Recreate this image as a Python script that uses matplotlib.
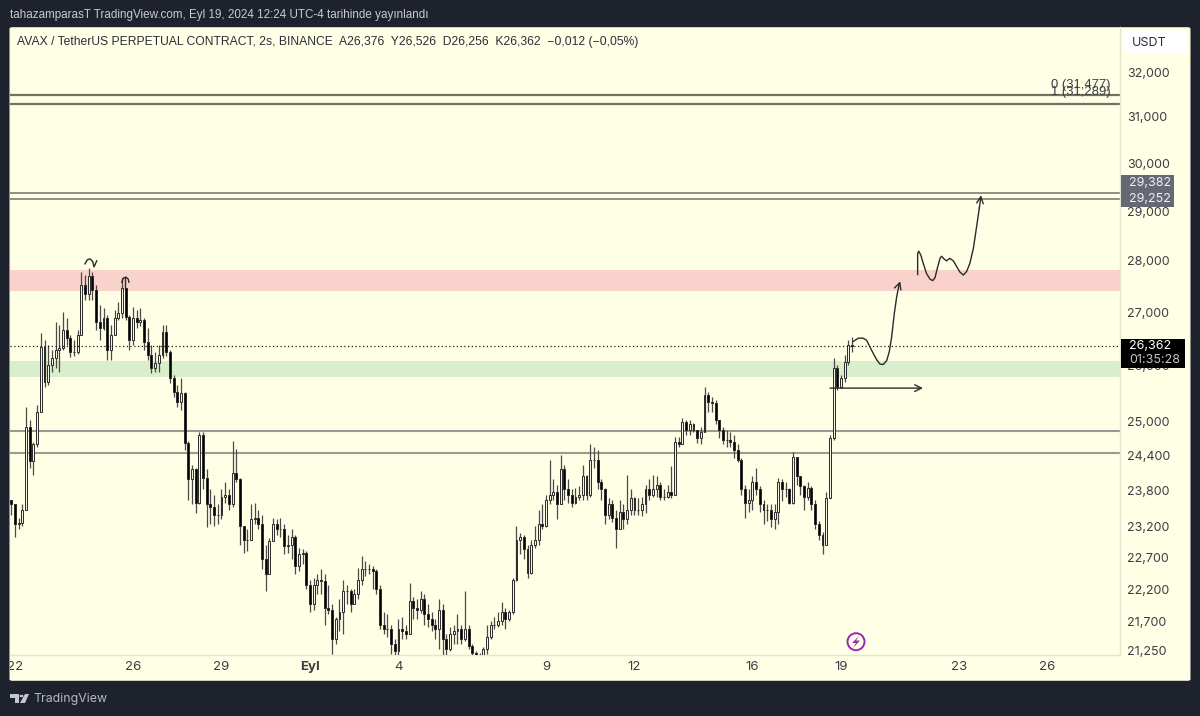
#!/usr/bin/env python3
"""
AVAX/USDT 2h chart from TradingView, with drawn zones and arrows
"""

import numpy as np
import matplotlib
matplotlib.use("Agg")
import matplotlib.pyplot as plt
from matplotlib.patches import FancyBboxPatch, Polygon, Circle, Ellipse
from matplotlib.transforms import Bbox

W, H = 1200, 716

# prices in USDT, sampled every 3 hours starting late on Aug 21
closes = [
    23.57, 23.24, 23.26, 23.48, 24.89, 24.30, 24.59, 25.16, 26.34, 25.70,
    26.01, 26.14, 26.29, 26.33, 26.67, 26.52, 26.25, 26.25, 26.57, 27.53,
    27.35, 27.70, 27.43, 26.81, 26.70, 26.89, 26.29, 26.57, 26.89, 26.99,
    27.47, 26.91, 26.48, 26.89, 26.81, 26.85, 26.44, 26.20, 25.96, 26.05,
    26.20, 26.63, 26.25, 25.78, 25.52, 25.34, 25.50, 24.62, 23.99, 24.16,
    23.60, 24.76, 24.02, 23.57, 23.52, 23.40, 23.40, 23.70, 23.73, 23.57,
    24.10, 23.99, 23.21, 22.99, 22.99, 23.32, 23.35, 23.24, 22.67, 22.43,
    22.97, 23.24, 23.16, 23.16, 22.88, 22.91, 23.03, 22.56, 22.75, 22.78,
    22.27, 21.96, 22.27, 22.35, 22.32, 21.91, 21.88, 21.43, 21.73, 21.85,
    22.17, 22.17, 21.96, 22.12, 22.35, 22.51, 22.51, 22.51, 22.48, 22.20,
    21.65, 21.58, 21.58, 21.35, 21.25, 21.58, 21.55, 21.50, 22.01, 21.91,
    21.88, 22.04, 21.81, 21.73, 21.65, 21.58, 21.88, 21.43, 21.28, 21.50,
    21.55, 21.58, 21.43, 21.58, 21.32, 21.22, 21.10, 21.13, 21.28, 21.46,
    21.65, 21.65, 21.70, 21.85, 21.73, 21.85, 22.35, 22.99, 23.03, 22.83,
    22.46, 22.91, 22.99, 23.24, 23.21, 23.65, 23.73, 23.78, 23.57, 24.16,
    23.82, 23.73, 23.60, 23.70, 23.73, 24.04, 23.73, 24.33, 24.33, 23.94,
    23.82, 23.40, 23.57, 23.35, 23.16, 23.45, 23.32, 23.48, 23.68, 23.48,
    23.48, 23.57, 23.82, 23.73, 23.82, 23.90, 23.70, 23.70, 23.78, 23.73,
    24.64, 24.59, 24.99, 24.85, 24.95, 24.85, 24.71, 24.81, 25.47, 25.34,
    25.33, 25.02, 24.85, 24.67, 24.67, 24.64, 24.50, 24.33, 23.82, 23.60,
    23.65, 23.95, 23.82, 23.57, 23.48, 23.48, 23.32, 23.45, 23.95, 23.82,
    23.82, 23.60, 24.38, 24.04, 23.87, 23.70, 23.85, 23.57, 23.24, 23.07,
    22.91, 23.68, 24.71, 25.96, 25.61, 25.78, 26.07, 26.376, 26.362,
]
highs = [
    23.65, 23.52, 23.35, 23.57, 25.25, 25.02, 24.64, 25.29, 26.61, 26.48,
    26.38, 26.29, 26.81, 26.76, 27.00, 26.89, 26.57, 26.48, 26.67, 27.78,
    27.72, 27.86, 27.78, 27.53, 27.14, 27.08, 26.95, 26.76, 27.04, 27.20,
    27.66, 27.47, 26.95, 27.10, 27.04, 27.08, 26.89, 26.70, 26.38, 26.25,
    26.38, 26.76, 26.76, 26.29, 25.83, 25.65, 25.78, 25.52, 24.65, 24.24,
    24.19, 24.81, 24.80, 24.16, 23.82, 23.73, 23.57, 23.82, 23.94, 23.82,
    24.65, 24.52, 24.02, 23.10, 23.16, 23.57, 23.60, 23.48, 23.40, 22.91,
    23.02, 23.35, 23.32, 23.35, 23.24, 23.07, 23.16, 23.07, 22.86, 22.83,
    22.80, 22.35, 22.38, 22.43, 22.51, 22.43, 22.27, 21.96, 21.77, 22.04,
    22.35, 22.27, 22.20, 22.20, 22.54, 22.72, 22.64, 22.59, 22.57, 22.51,
    22.27, 21.85, 21.81, 21.65, 21.43, 21.73, 21.76, 21.65, 22.30, 22.07,
    22.04, 22.17, 22.12, 21.96, 21.85, 21.73, 22.04, 21.96, 21.50, 21.61,
    21.65, 21.81, 21.65, 22.17, 21.65, 21.35, 21.25, 21.22, 21.31, 21.65,
    21.70, 21.76, 21.85, 21.99, 21.91, 21.88, 22.38, 23.21, 23.10, 23.07,
    22.91, 22.99, 23.21, 23.48, 23.57, 23.73, 24.33, 23.99, 23.90, 24.41,
    24.24, 23.99, 23.82, 23.85, 23.87, 24.24, 24.07, 24.59, 24.54, 24.50,
    23.99, 23.85, 23.68, 23.65, 23.48, 23.65, 23.57, 24.07, 23.82, 23.70,
    23.68, 23.70, 23.90, 23.99, 24.07, 24.04, 23.94, 23.82, 23.89, 24.22,
    24.72, 24.72, 25.06, 25.02, 25.02, 24.97, 24.85, 24.89, 25.61, 25.52,
    25.43, 25.38, 25.02, 24.90, 24.85, 24.81, 24.76, 24.59, 24.36, 23.90,
    23.82, 24.04, 24.19, 23.87, 23.65, 23.57, 23.57, 23.57, 24.02, 23.99,
    23.95, 23.85, 24.46, 24.33, 24.02, 23.90, 23.95, 23.87, 23.65, 23.29,
    23.12, 23.78, 24.76, 26.14, 26.01, 25.83, 26.20, 26.48, 26.526,
]
lows = [
    23.40, 23.03, 23.16, 23.22, 23.48, 24.19, 24.07, 24.55, 25.16, 25.61,
    25.65, 25.88, 25.96, 25.88, 26.29, 26.38, 26.16, 26.18, 26.22, 26.57,
    27.24, 27.24, 27.24, 26.67, 26.48, 26.67, 26.11, 26.11, 26.57, 26.85,
    26.89, 26.85, 26.29, 26.38, 26.70, 26.74, 26.29, 26.11, 25.87, 25.88,
    25.88, 26.14, 26.18, 25.69, 25.43, 25.25, 25.20, 24.50, 23.65, 23.57,
    23.43, 23.57, 23.82, 23.19, 23.24, 23.21, 23.24, 23.32, 23.60, 23.48,
    23.53, 23.95, 22.91, 22.78, 22.80, 22.99, 23.24, 23.16, 22.51, 22.17,
    22.67, 22.96, 23.07, 23.03, 22.75, 22.78, 22.67, 22.43, 22.48, 22.59,
    22.20, 21.85, 21.88, 22.12, 22.12, 21.65, 21.81, 21.20, 21.35, 21.55,
    21.50, 21.96, 21.85, 21.96, 22.04, 22.27, 22.40, 22.43, 22.20, 22.12,
    21.58, 21.50, 21.46, 21.20, 21.17, 21.17, 21.43, 21.43, 21.50, 21.73,
    21.73, 21.83, 21.65, 21.61, 21.55, 21.43, 21.28, 21.17, 21.17, 21.25,
    21.35, 21.35, 21.35, 21.40, 21.28, 21.13, 21.01, 21.05, 21.05, 21.20,
    21.43, 21.58, 21.61, 21.65, 21.58, 21.70, 21.81, 22.32, 22.75, 22.67,
    22.38, 22.43, 22.86, 22.91, 23.16, 23.19, 23.57, 23.65, 23.32, 23.57,
    23.65, 23.60, 23.53, 23.57, 23.65, 23.65, 23.65, 23.70, 24.19, 23.82,
    23.65, 23.24, 23.32, 23.27, 22.86, 23.16, 23.16, 23.24, 23.40, 23.40,
    23.40, 23.37, 23.42, 23.65, 23.70, 23.70, 23.65, 23.65, 23.68, 23.68,
    23.99, 24.54, 24.59, 24.76, 24.76, 24.80, 24.62, 24.59, 24.81, 25.16,
    25.16, 24.94, 24.71, 24.59, 24.54, 24.55, 24.36, 24.28, 23.73, 23.35,
    23.45, 23.48, 23.73, 23.45, 23.24, 23.29, 23.19, 23.16, 23.24, 23.62,
    23.70, 23.57, 23.57, 23.90, 23.73, 23.48, 23.65, 23.48, 23.16, 22.99,
    22.75, 23.07, 23.68, 24.67, 25.56, 25.60, 25.70, 26.01, 26.256,
]
first_open = 23.65

level_prices = [31.477, 31.289, 29.382, 29.252, 24.82, 24.44]
last_price = 26.362
resistance_zone = (27.41, 27.82)
support_zone = (25.80, 26.09)

# hand drawn paths: day offset from Aug 22, price
bump_x = [28.42, 28.59, 28.75, 28.87, 28.98, 29.09, 29.21, 29.32, 29.43, 29.55,
          29.64, 29.72, 29.81, 29.89, 29.97, 30.01]
bump_y = [26.45, 26.51, 26.51, 26.47, 26.35, 26.23, 26.11, 26.03, 26.02, 26.09,
          26.26, 26.54, 26.98, 27.30, 27.53, 27.60]
wave_x = [30.60, 30.60, 30.64, 30.71, 30.79, 30.90, 31.02, 31.11, 31.19, 31.27,
          31.36, 31.41, 31.49, 31.58, 31.69, 31.81, 31.92, 32.03, 32.15, 32.26,
          32.37, 32.49, 32.60, 32.69, 32.75]
wave_y = [27.73, 28.15, 28.19, 28.11, 27.95, 27.75, 27.64, 27.61, 27.67, 27.86,
          28.05, 28.09, 28.04, 28.00, 28.05, 28.00, 27.89, 27.78, 27.72, 27.79,
          27.95, 28.25, 28.69, 29.06, 29.33]
flat_x = [27.63, 30.78]
flat_y = [25.59, 25.59]
arc_x = [2.37, 2.45, 2.54, 2.63, 2.68, 2.77]
arc_y = [27.94, 28.02, 28.04, 27.99, 27.88, 28.00]
peak_x = [3.62, 3.67, 3.76, 3.84, 3.86]
peak_y = [27.58, 27.66, 27.68, 27.64, 27.58]
stem_x = [3.74, 3.74]
stem_y = [27.66, 27.47]

price_ticks = [32, 31, 30, 29, 28, 27, 26, 25, 24.4, 23.8, 23.2, 22.7, 22.2, 21.7, 21.25]
day_ticks = [0, 4, 7, 10, 13, 18, 21, 25, 28, 32, 35]
day_labels = ["22", "26", "29", "Eyl", "4", "9", "12", "16", "19", "23", "26"]

BG = "#ffffe6"
DARK = "#1e222d"
AXIS_TEXT = "#3a3d46"
SANS = ["Liberation Sans", "DejaVu Sans"]
INTER = ["Inter", "DejaVu Sans"]


def fx(px):
    return px / W


def fy(py):
    return 1 - py / H


def draw_candles(ax):
    days = -0.125 + 0.125 * np.arange(len(closes))
    opens = [first_open] + closes[:-1]
    ax.vlines(days, lows, highs, color="#4a4a4a", linewidth=0.9, zorder=3)
    for d, o, c in zip(days, opens, closes):
        rising = c >= o
        ax.bar(d, abs(c - o), bottom=min(o, c), width=0.065,
               facecolor="#f4f4e4" if rising else "#000000",
               edgecolor="#2a2a2a", linewidth=0.7, zorder=4)


def draw_path(ax, xs, ys, arrow=True):
    if arrow:
        ax.plot(xs[:-1], ys[:-1], color="#2a2a2a", linewidth=1.0, zorder=6)
        ax.annotate("", xy=(xs[-1], ys[-1]), xytext=(xs[-2], ys[-2]), zorder=6,
                    arrowprops=dict(arrowstyle="->", color="#2a2a2a", lw=1.0,
                                    mutation_scale=12, shrinkA=0, shrinkB=0))
    else:
        ax.plot(xs, ys, color="#2a2a2a", linewidth=1.0, zorder=6)


def main():
    plt.rcParams["font.family"] = SANS
    fig = plt.figure(figsize=(W / 100, H / 100), dpi=100, facecolor=DARK)

    # chart card
    fig.add_artist(FancyBboxPatch((fx(12), fy(679)), fx(1176), fy(29) - fy(679),
                                  boxstyle="round,pad=0.0015", transform=fig.transFigure,
                                  facecolor=BG, edgecolor=BG, zorder=0))

    ax = fig.add_axes([fx(10), fy(654.5), fx(1110), fy(27) - fy(654.5)])
    ax.set_facecolor("none")
    ax.set_yscale("log")
    ax.set_xlim(-0.17, 37.46)
    ax.set_ylim(21.196, 33.035)

    for side in ("top", "left"):
        ax.spines[side].set_visible(False)
    for side in ("right", "bottom"):
        ax.spines[side].set_color("#e4e4d0")
        ax.spines[side].set_linewidth(1)

    # zones and levels
    ax.axhspan(*resistance_zone, color="#fad2cc", linewidth=0, zorder=1)
    ax.axhspan(*support_zone, color="#d9eecb", linewidth=0, zorder=1)
    ax.hlines(level_prices[:2], -0.17, 37.46, color="#70735f", linewidth=1.6, zorder=2)
    ax.hlines(level_prices[2:4], -0.17, 37.46, color="#8f9184", linewidth=1.4, zorder=2)
    ax.hlines(level_prices[4:], -0.17, 37.46, color="#9a9a92", linewidth=1.5, zorder=2)
    ax.axhline(last_price, color="#1a1a1a", linestyle=(0, (1, 2)), linewidth=0.9, zorder=5)

    draw_candles(ax)

    draw_path(ax, bump_x, bump_y)
    draw_path(ax, wave_x, wave_y)
    draw_path(ax, flat_x, flat_y)
    draw_path(ax, arc_x, arc_y, arrow=False)
    draw_path(ax, peak_x, peak_y, arrow=False)
    draw_path(ax, stem_x, stem_y, arrow=False)

    ax.text(37.15, level_prices[0] + 0.23, "0 (31,477)", ha="right", va="center",
            fontsize=9.4, color="#3a3d46", zorder=7)
    ax.text(37.15, level_prices[1] + 0.26, "1 (31,289)", ha="right", va="center",
            fontsize=9.4, color="#3a3d46", zorder=7)

    # price axis
    ax.yaxis.tick_right()
    ax.set_yticks(price_ticks)
    ax.set_yticklabels([f"{p:.3f}".replace(".", ",") for p in price_ticks])
    ax.minorticks_off()
    ax.tick_params(axis="y", length=0, pad=5, labelsize=9, labelcolor=AXIS_TEXT)
    for lab in ax.get_yticklabels():
        lab.set_fontfamily(INTER)

    # time axis
    ax.set_xticks(day_ticks)
    ax.set_xticklabels(day_labels)
    ax.tick_params(axis="x", length=0, pad=5, labelsize=9.5, labelcolor=AXIS_TEXT)
    clip = Bbox([[10, 0], [1200, H]])
    for lab in ax.get_xticklabels():
        lab.set_fontfamily(INTER)
        lab.set_clip_box(clip)
        lab.set_clip_on(True)
        if lab.get_text() == "Eyl":
            lab.set_fontweight("bold")

    # header and legend
    fig.text(fx(10), fy(15), "tahazamparasT TradingView.com, Eyl 19, 2024 12:24 UTC-4 tarihinde yayınlandı",
             color="#c8cad0", fontsize=8.35, va="center")
    fig.text(fx(17), fy(42), "AVAX / TetherUS PERPETUAL CONTRACT, 2s, BINANCE  A26,376  Y26,526  D26,256  K26,362  −0,012 (−0,05%)",
             color="#2a2e39", fontsize=8.73, va="center")

    # currency button
    fig.add_artist(FancyBboxPatch((fx(1127), fy(52)), fx(56), fy(33) - fy(52),
                                  boxstyle="round,pad=0.003", transform=fig.transFigure,
                                  facecolor="#ffffff", edgecolor="none", zorder=2))
    fig.text(fx(1132), fy(43), "USDT", color="#2a2e39", fontsize=9, va="center",
             family=INTER, zorder=3)

    # price labels
    for label, top, bottom, text_y in [("29,382", 175, 191, 183), ("29,252", 191, 207, 199)]:
        fig.add_artist(Polygon([(fx(1121), fy(top)), (fx(1174), fy(top)),
                                (fx(1174), fy(bottom)), (fx(1121), fy(bottom))],
                               transform=fig.transFigure, facecolor="#666873",
                               edgecolor="none", zorder=4))
        fig.text(fx(1129), fy(text_y), label, color="#f2f2f2", fontsize=9, va="center",
                 family=INTER, zorder=5)

    fig.add_artist(Polygon([(fx(1121), fy(339)), (fx(1185), fy(339)),
                            (fx(1185), fy(368)), (fx(1121), fy(368))],
                           transform=fig.transFigure, facecolor="#000000",
                           edgecolor="none", zorder=4))
    fig.text(fx(1129), fy(346), "26,362", color="#ffffff", fontsize=9, va="center",
             family=INTER, zorder=5)
    fig.text(fx(1129), fy(360), "01:35:28", color="#c4c4c4", fontsize=9, va="center",
             family=INTER, zorder=5)

    # lightning badge
    fig.add_artist(Ellipse((fx(856), fy(641.7)), 17 / W, 17 / H, transform=fig.transFigure,
                           facecolor="none", edgecolor="#9c27b0", linewidth=1.4, zorder=6))
    bolt = [(859, 636), (852, 643), (856, 643), (853, 648), (860, 640.5), (856, 640.5)]
    fig.add_artist(Polygon([(fx(a), fy(b)) for a, b in bolt], transform=fig.transFigure,
                           facecolor="#9c27b0", edgecolor="none", zorder=7))

    # footer logo
    logo = "#c4c6cc"
    fig.add_artist(Polygon([(fx(10), fy(694)), (fx(19), fy(694)), (fx(19), fy(703)),
                            (fx(14.5), fy(703)), (fx(14.5), fy(698)), (fx(10), fy(698))],
                           transform=fig.transFigure, facecolor=logo, edgecolor="none"))
    fig.add_artist(Polygon([(fx(25), fy(694)), (fx(29), fy(694)), (fx(25), fy(703)), (fx(20), fy(703))],
                           transform=fig.transFigure, facecolor=logo, edgecolor="none"))
    fig.add_artist(Circle((fx(21.5), fy(696)), 0.0017, transform=fig.transFigure,
                          facecolor=logo, edgecolor="none"))
    fig.text(fx(33), fy(699), "TradingView", color="#b8bac0", fontsize=8.9, va="center",
             family=INTER)

    fig.savefig("out.png", dpi=100, facecolor=DARK)
    plt.close(fig)


if __name__ == "__main__":
    main()
